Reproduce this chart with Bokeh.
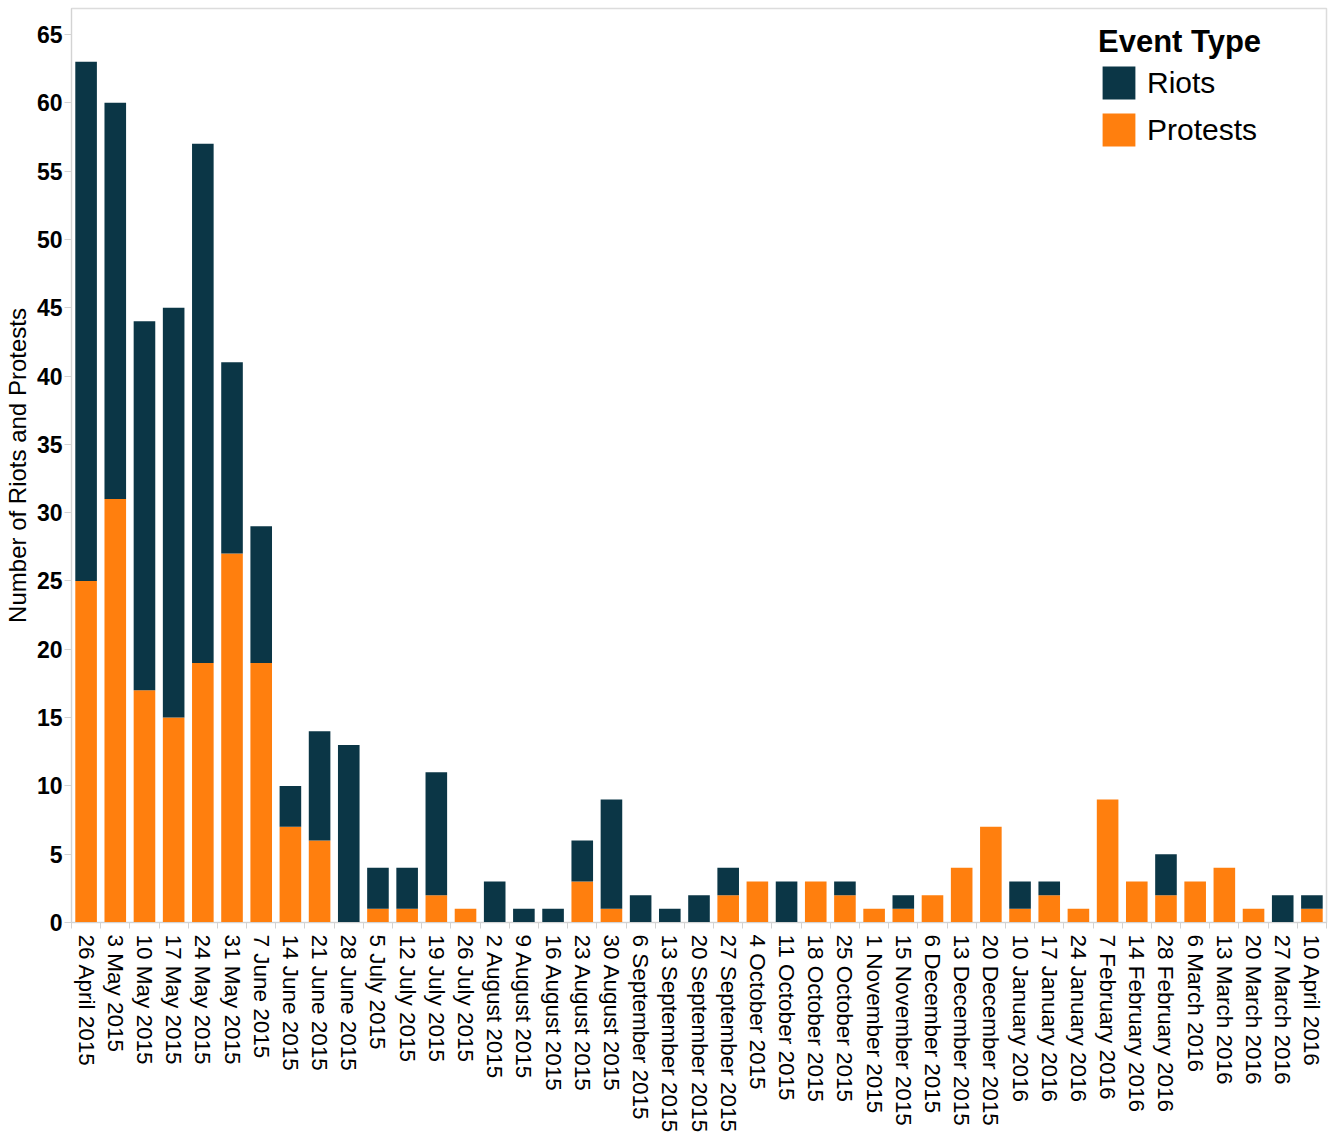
from bokeh.plotting import figure
from bokeh.models import Range1d, FixedTicker, Legend, LegendItem, ColumnDataSource
from bokeh.embed import file_html
from bokeh.resources import INLINE

categories = [
    "26 April 2015", "3 May 2015", "10 May 2015", "17 May 2015", "24 May 2015",
    "31 May 2015", "7 June 2015", "14 June 2015", "21 June 2015", "28 June 2015",
    "5 July 2015", "12 July 2015", "19 July 2015", "26 July 2015", "2 August 2015",
    "9 August 2015", "16 August 2015", "23 August 2015", "30 August 2015",
    "6 September 2015", "13 September 2015", "20 September 2015", "27 September 2015",
    "4 October 2015", "11 October 2015", "18 October 2015", "25 October 2015",
    "1 November 2015", "15 November 2015", "6 December 2015", "13 December 2015",
    "20 December 2015", "10 January 2016", "17 January 2016", "24 January 2016",
    "7 February 2016", "14 February 2016", "28 February 2016", "6 March 2016",
    "13 March 2016", "20 March 2016", "27 March 2016", "10 April 2016",
]
protests = [25, 31, 17, 15, 19, 27, 19, 7, 6, 0, 1, 1, 2, 1, 0, 0, 0, 3, 1, 0, 0, 0, 2,
            3, 0, 3, 2, 1, 1, 2, 4, 7, 1, 2, 1, 9, 3, 2, 3, 4, 1, 0, 1]
riots = [38, 29, 27, 30, 38, 14, 10, 3, 8, 13, 3, 3, 9, 0, 3, 1, 1, 3, 8, 2, 1, 2, 2,
         0, 3, 0, 1, 0, 1, 0, 0, 0, 2, 1, 0, 0, 0, 3, 0, 0, 0, 2, 1]
y_ticks = list(range(0, 70, 5))

RIOT_COLOR = "#0b3646"
PROTEST_COLOR = "#ff7f0e"
FONT = "Liberation Sans"

n = len(categories)
x = [i + 0.5 for i in range(n)]
source = ColumnDataSource(dict(x=x, Protests=protests, Riots=riots))

p = figure(frame_width=1255, frame_height=914,
           x_range=Range1d(0, n), y_range=Range1d(0, 66.9),
           output_backend="svg", toolbar_location=None,
           min_border_left=66, min_border_right=2, min_border_top=8,
           min_border_bottom=200)

rs = p.vbar_stack(["Protests", "Riots"], x="x", width=0.74, source=source,
                  color=[PROTEST_COLOR, RIOT_COLOR], line_color=None)
r_prot, r_riot = rs

p.xgrid.visible = False
p.ygrid.visible = False
p.outline_line_color = "#dcdcdc"
p.outline_line_width = 1.5
p.background_fill_color = "white"
p.border_fill_color = "white"

# x axis
xa = p.xaxis[0]
xa.ticker = FixedTicker(ticks=x, minor_ticks=list(range(n + 1)))
xa.major_label_overrides = {xi: c for xi, c in zip(x, categories)}
xa.major_label_orientation = "vertical"
xa.major_tick_out = 0
xa.major_tick_in = 0
xa.minor_tick_out = 6
xa.minor_tick_in = 0
xa.minor_tick_line_color = "#d3d3d3"
xa.axis_line_color = "#d3d3d3"
xa.major_label_standoff = 6
xa.major_label_text_font = FONT
xa.major_label_text_font_size = "22.5px"
xa.major_label_text_color = "black"

# y axis
ya = p.yaxis[0]
ya.ticker = FixedTicker(ticks=y_ticks)
ya.major_tick_out = 7
ya.major_tick_in = 0
ya.minor_tick_out = 0
ya.minor_tick_in = 0
ya.major_tick_line_color = "#d3d3d3"
ya.axis_line_color = "#d3d3d3"
ya.major_label_standoff = 2
ya.major_label_text_font = FONT
ya.major_label_text_font_size = "23px"
ya.major_label_text_font_style = "bold"
ya.major_label_text_color = "black"
ya.axis_label = "Number of Riots and Protests"
ya.axis_label_text_font = FONT
ya.axis_label_text_font_size = "24px"
ya.axis_label_text_font_style = "normal"
ya.axis_label_text_color = "black"
ya.axis_label_standoff = 3

legend = Legend(
    items=[LegendItem(label="Riots", renderers=[r_riot]),
           LegendItem(label="Protests", renderers=[r_prot])],
    location=(1027, 772),
    title="Event Type",
    title_text_font=FONT, title_text_font_size="31px", title_text_font_style="bold",
    title_text_color="black", title_standoff=2,
    label_text_font=FONT, label_text_font_size="30px", label_text_color="black",
    glyph_width=41, glyph_height=41, label_height=41, label_standoff=8,
    spacing=6, padding=10, margin=0,
    border_line_color=None, background_fill_alpha=0,
)
p.add_layout(legend)

open("out.html", "w").write(file_html(p, INLINE))
